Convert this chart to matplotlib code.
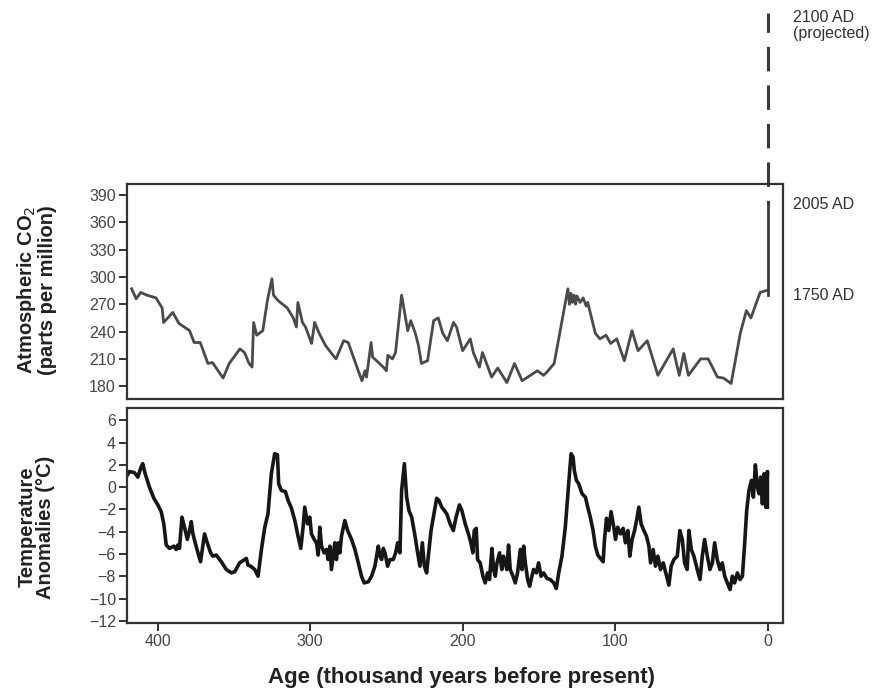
import matplotlib
matplotlib.use("Agg")
import matplotlib.pyplot as plt

# CO2 record (age in kyr before present, ppm)
co2_age = [417, 414, 411, 407, 401, 397, 396, 390, 386, 379, 376, 372, 367, 364,
           357, 353, 346, 343, 340, 338, 337, 335, 331, 328, 325, 324, 321, 315,
           311, 309, 308, 305, 303, 299, 297, 294, 290, 285, 283, 278, 275, 268,
           266, 264, 263, 260, 259, 252, 250, 249, 246, 244, 240, 236, 234, 231,
           229, 227, 223, 219, 216, 213, 210, 206, 204, 200, 195, 193, 189, 187,
           181, 177, 171, 166, 161, 151, 147, 145, 140, 131, 130, 129, 128, 127,
           126, 125, 123, 121, 119, 118, 113, 110, 106, 103, 99, 94, 89, 85, 79,
           72, 62, 58, 55, 52, 44, 39, 33, 29, 24, 18, 14, 11, 8, 5, 1]
co2_ppm = [287, 276, 283, 280, 277, 266, 250, 261, 249, 241, 228, 228, 205, 206,
           189, 205, 221, 217, 205, 201, 250, 236, 241, 274, 298, 280, 274, 266,
           255, 245, 272, 250, 245, 227, 250, 238, 225, 214, 210, 230, 228, 195,
           186, 197, 190, 228, 212, 201, 197, 214, 210, 217, 280, 241, 252, 238,
           225, 205, 208, 252, 255, 238, 230, 250, 245, 219, 232, 217, 201, 217,
           190, 200, 184, 205, 186, 197, 192, 195, 205, 287, 270, 282, 272, 280,
           270, 279, 272, 277, 268, 272, 238, 232, 236, 227, 232, 208, 241, 219, 230,
           192, 221, 192, 216, 192, 210, 210, 190, 189, 183, 238, 263, 255, 269, 283, 285]

# recent rise (1750 -> 2005) and projection to 2100
modern_age = [0, 0]
modern_ppm = [280, 379]
proj_age = [0, 0]
proj_ppm = [379, 590]
modern_labels = ["1750 AD", "2005 AD"]

# temperature anomalies (deg C)
temp_age = [420.6, 418.4, 415.1, 412.9, 410.8, 409.7, 408.1, 405.3, 402.4, 399.8,
            397.6, 395.9, 394.3, 392.1, 389.3, 387.8, 386.7, 385.6, 384.0, 382.3,
            380.5, 379.0, 377.9, 376.8, 375.3, 373.5, 371.8, 370.2, 369.2, 367.4,
            365.2, 363.7, 361.5, 358.2, 354.9, 351.6, 349.4, 346.2, 342.9, 341.8,
            340.7, 338.9, 336.3, 334.1, 331.9, 329.7, 327.6, 325.4, 323.2, 321.4,
            320.6, 318.8, 316.2, 314.4, 312.2, 310.0, 307.9, 306.1, 304.6, 303.5,
            301.7, 300.2, 299.1, 297.3, 295.8, 294.7, 293.6, 292.5, 290.8, 289.2,
            288.2, 287.0, 286.0, 284.9, 283.8, 282.7, 281.6, 280.5, 279.4, 277.2,
            275.4, 272.8, 270.6, 268.4, 266.3, 264.5, 261.9, 259.7, 257.5, 255.3,
            254.2, 253.1, 252.0, 250.9, 249.2, 247.6, 245.5, 243.9, 242.6, 241.1,
            240.0, 238.2, 236.7, 235.2, 233.4, 231.2, 229.5, 228.0, 226.4, 225.1,
            223.6, 222.5, 220.7, 219.2, 217.0, 215.5, 213.7, 212.0, 210.4, 208.2,
            206.1, 204.3, 202.1, 200.5, 198.3, 196.2, 194.6, 193.3, 192.4, 191.1,
            190.2, 188.5, 186.7, 185.2, 183.7, 182.4, 180.8, 179.7, 178.6, 177.5,
            175.8, 174.3, 173.2, 172.1, 171.0, 169.9, 168.8, 167.0, 165.5, 164.0,
            162.2, 161.1, 160.0, 158.9, 157.4, 156.1, 154.6, 153.5, 151.7, 150.2,
            148.6, 146.9, 144.7, 142.5, 140.3, 138.6, 137.0, 134.9, 132.7, 131.2,
            129.8, 128.9, 127.6, 126.8, 125.4, 123.9, 121.7, 119.5, 118.0, 116.3,
            114.5, 113.0, 111.4, 109.7, 107.9, 107.0, 105.7, 104.2, 102.7, 100.9,
            99.8, 98.3, 96.5, 94.8, 93.3, 91.7, 90.4, 88.9, 87.3, 86.0,
            84.5, 83.0, 81.2, 79.5, 77.9, 76.8, 75.1, 73.6, 72.0, 70.3,
            68.5, 66.3, 64.8, 63.3, 61.5, 59.3, 57.6, 56.0, 54.5, 52.8,
            51.7, 50.1, 48.4, 46.2, 44.4, 42.9, 41.4, 39.6, 37.9, 36.3,
            34.8, 33.1, 31.3, 29.8, 28.2, 26.5, 24.7, 23.2, 21.7, 19.9,
            18.2, 16.6, 15.1, 13.8, 12.3, 10.7, 9.4, 8.1, 6.8, 5.7,
            4.6, 3.5, 2.4, 1.3, 0.2, 0.2]
temp_anom = [0.9, 1.4, 1.3, 0.9, 1.8, 2.1, 1.2, 0.0, -1.0, -1.6,
             -2.2, -3.3, -5.2, -5.5, -5.3, -5.6, -5.2, -5.5, -2.7, -3.6,
             -4.7, -3.9, -3.1, -4.2, -5.0, -5.9, -6.7, -5.2, -4.2, -5.0,
             -5.9, -6.2, -6.1, -6.7, -7.4, -7.7, -7.6, -6.8, -6.5, -6.4,
             -7.0, -7.1, -7.4, -8.0, -5.6, -3.6, -2.4, 1.2, 3.0, 2.9,
             0.3, -0.3, -0.4, -1.2, -1.9, -3.0, -4.4, -5.5, -3.6, -1.8,
             -3.3, -2.7, -4.2, -4.7, -5.0, -6.1, -3.6, -5.3, -5.9, -5.6,
             -6.5, -5.3, -7.4, -6.2, -5.0, -6.5, -5.0, -5.9, -4.4, -3.0,
             -3.9, -4.7, -5.6, -6.8, -8.0, -8.6, -8.5, -8.0, -7.1, -5.3,
             -6.2, -6.5, -5.5, -5.9, -7.1, -6.5, -6.5, -5.9, -5.0, -5.9,
             -0.3, 2.1, -0.9, -2.1, -2.7, -4.4, -5.9, -7.1, -5.0, -7.1,
             -7.7, -6.2, -3.9, -2.7, -1.0, -1.2, -1.8, -2.1, -2.4, -3.3,
             -3.9, -2.7, -1.6, -2.1, -3.3, -4.2, -5.0, -5.9, -3.9, -3.7,
             -6.5, -6.8, -8.0, -8.6, -7.7, -8.3, -5.5, -7.4, -8.0, -6.8,
             -5.9, -7.4, -6.2, -6.8, -7.4, -5.2, -7.4, -8.0, -8.6, -7.7,
             -5.6, -7.4, -5.3, -6.8, -8.3, -8.9, -8.0, -7.4, -7.7, -6.8,
             -8.0, -7.7, -8.2, -8.3, -8.6, -9.1, -7.7, -6.2, -3.6, -0.9,
             1.5, 3.0, 2.7, 1.5, 0.6, 0.3, -0.6, -0.9, -1.8, -2.7,
             -3.9, -5.3, -6.1, -6.4, -6.7, -4.7, -2.8, -3.9, -2.2, -3.6,
             -4.7, -3.6, -4.2, -3.7, -5.0, -3.9, -6.2, -4.7, -3.9, -3.0,
             -1.8, -3.3, -3.9, -4.4, -5.3, -6.8, -5.6, -7.1, -6.2, -7.4,
             -6.8, -8.0, -8.8, -7.1, -6.5, -6.2, -3.9, -4.7, -6.8, -7.4,
             -3.9, -5.6, -6.2, -7.4, -8.3, -6.2, -4.7, -6.2, -7.4, -6.8,
             -5.0, -6.5, -7.4, -6.8, -8.0, -8.6, -9.2, -8.0, -8.6, -7.7,
             -8.3, -8.0, -5.0, -2.1, -0.3, 0.6, -0.9, 2.0, 0.0, -0.6,
             0.9, -1.5, 1.2, -1.8, 1.4, -1.8]

co2_ticks = [180, 210, 240, 270, 300, 330, 360, 390]
temp_ticks = [6, 4, 2, 0, -2, -4, -6, -8, -10, -12]
age_ticks = [400, 300, 200, 100, 0]

plt.rcParams["font.family"] = ["Liberation Sans", "DejaVu Sans"]
SPINE = "#333333"
TICKTXT = "#444444"

fig = plt.figure(figsize=(8.73, 6.91), dpi=100)
ax1 = fig.add_axes([0.1455, 0.4226, 0.7514, 0.3111])
ax2 = fig.add_axes([0.1455, 0.0984, 0.7514, 0.3111])

for ax in (ax1, ax2):
    ax.set_xlim(420, -10)
    for s in ax.spines.values():
        s.set_color(SPINE)
        s.set_linewidth(1.6)
    ax.tick_params(axis="both", direction="out", length=6, width=1.4,
                   color=SPINE, labelcolor=TICKTXT, labelsize=11.5, pad=2)

# CO2 panel
ax1.plot(co2_age, co2_ppm, color="#4a4a4a", lw=2.0)
ax1.plot(modern_age, modern_ppm, color="#3a3a3a", lw=2.0)
ax1.plot(proj_age, proj_ppm, color="#3a3a3a", lw=2.2, clip_on=False,
         linestyle=(6.5, (8.0, 4.6)))
ax1.set_ylim(166, 402)
ax1.set_yticks(co2_ticks)
ax1.set_xticks([])

for lab, val in zip(modern_labels, modern_ppm):
    ax1.annotate(lab, xy=(1.0, val), xycoords=("axes fraction", "data"),
                 xytext=(7, 0), textcoords="offset points", va="center",
                 ha="left", fontsize=11.5, color="#333333")
ax1.annotate("2100 AD\n(projected)", xy=(1.0, proj_ppm[1]),
             xycoords=("axes fraction", "data"), xytext=(7, -9),
             textcoords="offset points", va="center", ha="left",
             fontsize=11.5, color="#333333", annotation_clip=False,
             linespacing=1.05)

# temperature panel
ax2.plot(temp_age, temp_anom, color="#161616", lw=2.6)
ax2.set_ylim(-12.2, 7.1)
ax2.set_yticks(temp_ticks)
ax2.set_xticks(age_ticks)
ax2.set_xticklabels([str(a) for a in age_ticks])

fig.text(36 / 873, 1 - 290 / 691, "Atmospheric CO$_2$\n(parts per million)",
         rotation=90, ha="center", va="center", fontsize=14.5,
         fontweight="bold", linespacing=0.95, color="#222222")
fig.text(36 / 873, 1 - 527 / 691, "Temperature\nAnomalies (°C)",
         rotation=90, ha="center", va="center", fontsize=14.5,
         fontweight="bold", linespacing=0.95, color="#222222")
fig.text(462 / 873, 1 - 678 / 691, "Age (thousand years before present)",
         ha="center", va="center", fontsize=16, fontweight="bold",
         color="#222222")

fig.savefig("out.png", dpi=100)
